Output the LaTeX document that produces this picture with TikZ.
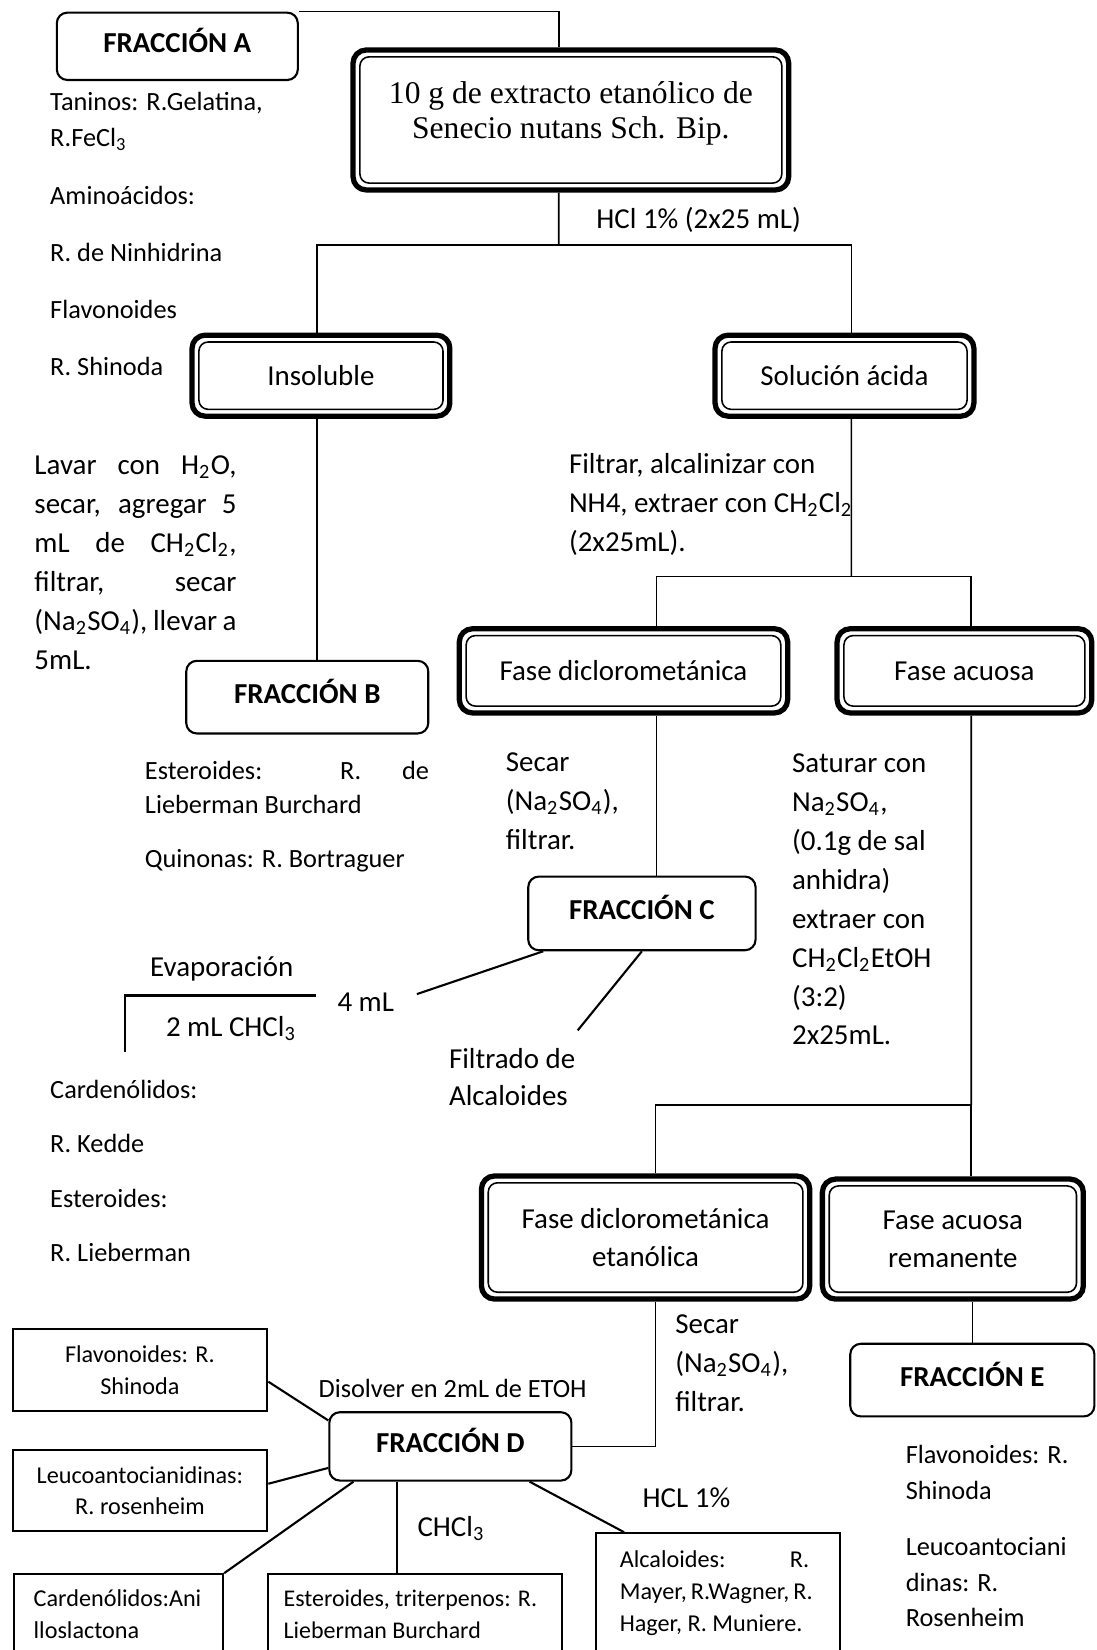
\documentclass[tikz,border=0pt]{standalone}
\usepackage{fontspec}
\setmainfont{Carlito}
\newfontfamily\serifbox{Liberation Serif}
\newcommand{\subs}[1]{\textsubscript{#1}}
\newcommand{\jl}[2]{\makebox[#1][s]{#2}}

\begin{document}
\begin{tikzpicture}[x=0.4pt, y=-0.4pt, line width=0.6pt,
  fracbox/.style={draw, line width=0.8pt, rounded corners=4pt, inner sep=0pt,
    text height=6.6pt, text depth=2pt, font=\bfseries\fontsize{11}{13}\selectfont},
  phasebox/.style={draw, line width=2pt, rounded corners=5pt, inner sep=0pt, align=center,
    font=\fontsize{11}{14.6}\selectfont,
    path picture={\draw[line width=0.6pt, rounded corners=3.5pt]
      ([shift={(2.6pt,2.6pt)}]path picture bounding box.south west) rectangle
      ([shift={(-2.6pt,-2.6pt)}]path picture bounding box.north east);}},
  testbox/.style={draw, line width=0.8pt, inner sep=0pt, align=center,
    font=\fontsize{9.2}{12}\selectfont},
  cutbox/.style={testbox, anchor=north west, align=flush left, inner xsep=7.6pt,
    text height=7pt, text depth=40pt},
  flow/.style={anchor=base west, inner sep=0pt, align=flush left, font=\fontsize{11}{14.8}\selectfont},
  note/.style={anchor=base west, inner sep=0pt, align=flush left, font=\fontsize{10}{13.6}\selectfont},
  link/.style={line width=0.8pt}]

  \useasboundingbox (0,0) rectangle (1042,1568);
  \clip (0,0) rectangle (1042,1568);

  % Extract and first split
  \node[fracbox, minimum width=91.6pt, minimum height=25.6pt] (fracA) at (168.5,44) {FRACCIÓN A};
  \node[phasebox, minimum width=165.6pt, minimum height=53.2pt,
    label={[font=\serifbox\fontsize{12}{13.2}\selectfont, align=center, yshift=2.6pt]center:{10 g de extracto etanólico de\\Senecio nutans Sch. Bip.}}]
    (main) at (542.5,114) {};
  \draw (fracA.north east) -| ([xshift=-4.6pt]main.north);

  \node[note, text width=100pt] (listA) at (47,105) {Taninos: R.Gelatina,\\R.FeCl\subs{3}\\[8.6pt]Aminoácidos:\\[8pt]R. de Ninhidrina\\[8pt]Flavonoides\\[8pt]R. Shinoda};

  \coordinate (split1) at (531,233);
  \draw ([xshift=-4.6pt]main.south) -- (split1);
  \node[flow] (hcl) at (566,217) {HCl 1\% (2x25 mL)};

  \node[phasebox, minimum width=98pt, minimum height=30.8pt] (insol) at (305,357) {Insoluble};
  \node[phasebox, minimum width=98.4pt, minimum height=30.8pt] (solac) at (802.5,357) {Solución ácida};
  \draw ([xshift=-1.6pt]insol.north) |- (split1) -| ([xshift=2.6pt]solac.north);

  % Insoluble branch
  \node[flow, text width=82pt] (lavar) at (32,451)
    {\jl{76.8pt}{Lavar con H\subs{2}O,}\\\jl{76.8pt}{secar, agregar 5}\\\jl{76.8pt}{mL de CH\subs{2}Cl\subs{2},}\\\jl{76.8pt}{filtrar, secar}\\\jl{76.8pt}{(Na\subs{2}SO\subs{4}), llevar a}\\5mL.};
  \node[fracbox, minimum width=92pt, minimum height=27.6pt] (fracB) at (292,662.5) {FRACCIÓN B};
  \draw ([xshift=-1.6pt]insol.south) -- ([xshift=-1.6pt]insol.south |- fracB.north);
  \node[note, text width=110pt, font=\fontsize{10}{12.8}\selectfont] (notesB) at (137,741)
    {\jl{108pt}{Esteroides: R. de}\\Lieberman Burchard\\[7.6pt]Quinonas: R. Bortraguer};

  % Acid solution branch
  \node[flow, text width=125pt] (filtrar) at (540,450) {Filtrar, alcalinizar con\\NH4, extraer con CH\subs{2}Cl\subs{2}\\(2x25mL).};
  \coordinate (split2) at (809,548);
  \draw ([xshift=2.6pt]solac.south) -- (split2);
  \node[phasebox, minimum width=124.8pt, minimum height=32pt] (fdcm) at (592.5,637.5) {Fase diclorometánica};
  \node[phasebox, minimum width=96.8pt, minimum height=32pt] (facu) at (916.5,637.5) {Fase acuosa};
  \draw ([xshift=12.6pt]fdcm.north) |- (split2) -| ([xshift=2.6pt]facu.north);

  \node[flow, text width=50pt] (secarC) at (480,733) {Secar\\(Na\subs{2}SO\subs{4}),\\filtrar.};
  \node[fracbox, minimum width=86.4pt, minimum height=28pt] (fracC) at (610,868) {FRACCIÓN C};
  \draw ([xshift=12.6pt]fdcm.south) -- ([xshift=12.6pt]fdcm.south |- fracC.north);

  \node[flow, text width=62pt] (saturar) at (752,734) {Saturar con\\Na\subs{2}SO\subs{4},\\(0.1g de sal\\anhidra)\\extraer con\\CH\subs{2}Cl\subs{2}EtOH\\(3:2)\\2x25mL.};

  % Fraction C outputs
  \node[flow] (evap) at (142,928) {Evaporación};
  \node[flow] (twoml) at (157,985) {2 mL CHCl\subs{3}};
  \node[flow] (fourml) at (320,961) {4 mL};
  \coordinate (evapR) at (300,946);
  \coordinate (evapL) at (119,946);
  \coordinate (evapB) at (119,1000);
  \draw[link] (evapR) -- (evapL) -- (evapB);
  \node[flow, text width=62pt, font=\fontsize{11}{14.4}\selectfont] (filt) at (426,1015) {Filtrado de\\Alcaloides};
  \draw[link] (fracC.201) -- ([shift={(8.4pt,3pt)}]fourml.east);
  \draw[link] (fracC.south) -- ([shift={(49.2pt,6.4pt)}]filt.north west);

  \node[note, text width=80pt, font=\fontsize{10}{20.6}\selectfont] (listC) at (47,1044) {Cardenólidos:\\R. Kedde\\Esteroides:\\R. Lieberman};

  % Second split
  \coordinate (split3) at (923,1050);
  \draw ([xshift=2.6pt]facu.south) -- (split3);
  \node[phasebox, minimum width=124.8pt, minimum height=46.8pt] (fdce) at (613.5,1176) {Fase diclorometánica\\etanólica};
  \node[phasebox, minimum width=99.2pt, minimum height=45.6pt] (fare) at (905.5,1177.5) {Fase acuosa\\remanente};
  \draw ([xshift=3.8pt]fdce.north) |- (split3) -| ([xshift=7pt]fare.north);

  \node[fracbox, minimum width=92.8pt, minimum height=27.6pt] (fracE) at (924,1311.5) {FRACCIÓN E};
  \draw (fracE.north |- fare.south) -- (fracE.north);
  \node[note, text width=70pt, font=\fontsize{10}{13.5}\selectfont] (notesE) at (860,1391)
    {Flavonoides: R.\\Shinoda\\[8pt]Leucoantociani\\dinas: R.\\Rosenheim};

  \node[flow, text width=50pt] (secarD) at (641,1267) {Secar\\(Na\subs{2}SO\subs{4}),\\filtrar.};
  \node[fracbox, minimum width=92pt, minimum height=26pt] (fracD) at (428,1374.5) {FRACCIÓN D};
  \draw ([xshift=3.8pt]fdce.south) |- (fracD.east);
  \node[note] (disolver) at (302,1328) {Disolver en 2mL de ETOH};

  % Tests on fraction D
  \node[testbox, minimum width=96.8pt, minimum height=31.2pt] (flavD) at (133,1302) {Flavonoides: R.\\Shinoda};
  \node[testbox, minimum width=96.8pt, minimum height=30.8pt] (leucD) at (133,1416.5) {Leucoantocianidinas:\\R. rosenheim};
  \node[cutbox, inner ysep=5.4pt, text width=64.4pt] (cardD) at (12,1495) {Cardenólidos:Ani\\lloslactona};
  \node[cutbox, inner ysep=5.4pt, inner xsep=5.8pt, text width=100pt, font=\fontsize{9.1}{12}\selectfont] (estD) at (254,1495) {Esteroides, triterpenos: R.\\Lieberman Burchard};
  \node[cutbox, inner ysep=6.2pt, inner xsep=9.2pt, text width=74.4pt] (alcD) at (565,1456)
    {\jl{72pt}{Alcaloides: R.}\\\jl{72pt}{Mayer, R.Wagner, R.}\\Hager, R. Muniere.};

  \draw[link] ([yshift=-4.4pt]flavD.east) -- (fracD.168);
  \draw[link] ([yshift=2.6pt]leucD.east) -- (fracD.190);
  \draw[link] (cardD.north east) -- (fracD.200);
  \draw ([xshift=-20.4pt]fracD.south) -- ([xshift=-20.4pt]fracD.south |- estD.north);
  \draw[link] (fracD.336) -- ([xshift=11.2pt]alcD.north west);
  \node[flow] (chcl) at (396,1460) {CHCl\subs{3}};
  \node[flow] (hcld) at (610,1433) {HCL 1\%};
\end{tikzpicture}
\end{document}
